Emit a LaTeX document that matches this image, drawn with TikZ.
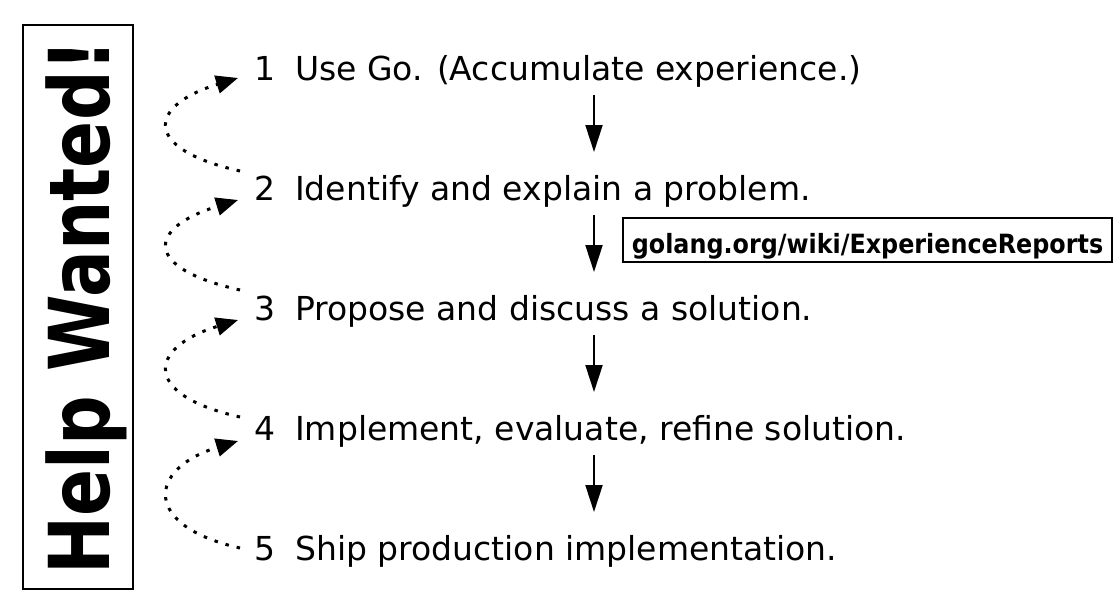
\documentclass[tikz,border=0pt]{standalone}
\usepackage{fontspec}
\setmainfont{DejaVu Sans}
\newfontfamily\helpfont[FakeStretch=0.826]{DejaVu Sans}
\newfontfamily\urlfont[FakeStretch=0.9]{DejaVu Sans}
\usetikzlibrary{arrows.meta}
\begin{document}
\begin{tikzpicture}[x=1pt,y=-1pt,
  num/.style={anchor=base west, inner sep=0pt, font=\fontsize{33}{40}\selectfont},
  txt/.style={anchor=base west, inner sep=0pt, font=\fontsize{33}{40}\selectfont},
  down/.style={line width=2pt, -{Triangle[length=27pt,width=17pt]}},
  loopback/.style={line width=3pt, dash pattern=on 3.5pt off 8pt, -{Triangle[length=22pt,width=18pt]}},
  framed/.style={draw, line width=2.2pt, inner sep=0pt},
]
\fill[white] (0,0) rectangle (1120,605);
\useasboundingbox (0,0) rectangle (1120,605);

% Help Wanted! banner
\node[framed, rotate=90, anchor=base, minimum width=564pt, text height=86pt, text depth=24pt,
      font=\helpfont\bfseries\fontsize{84}{90}\selectfont] (help) at (109,307) {Help Wanted!};

% numbered steps
\node[num] (n1) at (254,80) {1};
\node[num] (n2) at (254,200) {2};
\node[num] (n3) at (254,320) {3};
\node[num] (n4) at (254,440) {4};
\node[num] (n5) at (254,560) {5};
\node[txt] (t1) at (295,80) {Use Go. (Accumulate experience.)};
\node[txt] (t2) at (295,200) {Identify and explain a problem.};
\node[txt] (t3) at (295,320) {Propose and discuss a solution.};
\node[txt] (t4) at (295,440) {Implement, evaluate, refine solution.};
\node[txt] (t5) at (295,560) {Ship production implementation.};

% URL box
\node[framed, anchor=base, minimum width=489pt, text height=35pt, text depth=9pt,
      font=\urlfont\bfseries\fontsize{26.5}{30}\selectfont] (url) at (867.5,253) {golang.org/wiki/ExperienceReports};

% down arrows
\coordinate (d1a) at (594,95);  \coordinate (d1b) at (594,152);
\coordinate (d2a) at (594,215); \coordinate (d2b) at (594,272);
\coordinate (d3a) at (594,335); \coordinate (d3b) at (594,392);
\coordinate (d4a) at (594,455); \coordinate (d4b) at (594,512);
\draw[down] (d1a) -- (d1b);
\draw[down] (d2a) -- (d2b);
\draw[down] (d3a) -- (d3b);
\draw[down] (d4a) -- (d4b);

% dotted feedback loops
\coordinate (s2) at (240,171); \coordinate (e1) at (238,78);
\coordinate (s3) at (240,290); \coordinate (e2) at (238,200);
\coordinate (s4) at (240,417); \coordinate (e3) at (238,320);
\coordinate (s5) at (240,548); \coordinate (e4) at (238,441);
\draw[loopback] (s2) .. controls +(-98,-22) and +(-91,28) .. (e1);
\draw[loopback] (s3) .. controls +(-98,-22) and +(-91,28) .. (e2);
\draw[loopback] (s4) .. controls +(-98,-22) and +(-91,28) .. (e3);
\draw[loopback] (s5) .. controls +(-98,-22) and +(-91,28) .. (e4);
\end{tikzpicture}
\end{document}
